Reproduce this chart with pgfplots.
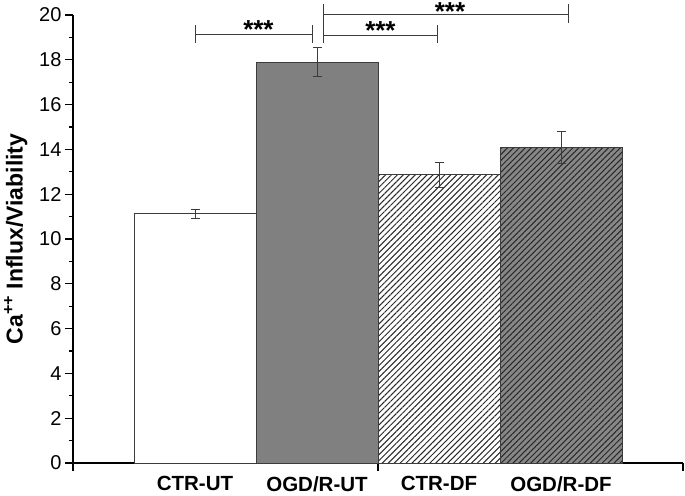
\documentclass[border=0pt]{standalone}
\usepackage{fontspec}
\setmainfont{Liberation Sans}
\usepackage{pgfplots}
\pgfplotsset{compat=1.18}
\usetikzlibrary{patterns.meta}
\definecolor{barline}{RGB}{60,60,60}
\definecolor{midgray}{RGB}{128,128,128}
\definecolor{hatchgray}{RGB}{135,135,135}
\definecolor{hatchline}{RGB}{40,40,40}

\begin{document}
\begin{tikzpicture}
\begin{axis}[
  name=ax,
  scale only axis,
  width=610pt, height=448pt,
  xmin=0, xmax=5,
  ymin=0, ymax=20,
  axis lines*=left,
  axis line style={line width=1.3pt, black},
  tick align=outside,
  ytick={0,2,...,20},
  minor y tick num=1,
  major tick length=8pt,
  minor tick length=4pt,
  tick style={line width=1.1pt, black},
  xtick={0,2.5,5},
  xticklabels={},
  extra x ticks={1,2,3,4},
  extra x tick labels={CTR-UT,OGD/R-UT,CTR-DF,OGD/R-DF},
  extra x tick style={major tick length=0pt,
    tick label style={font=\fontsize{20.5}{24}\selectfont\bfseries, yshift=-10pt}},
  yticklabel style={font=\fontsize{20}{24}\selectfont},
  /pgf/number format/assume math mode=true,
  ylabel={Ca\textsuperscript{++} Influx/Viability},
  ylabel style={font=\fontsize{23}{27}\selectfont\bfseries, yshift=5pt},
  clip=false,
  error bars/y dir=both,
  error bars/y explicit,
  error bars/error mark options={rotate=90, mark size=4.5pt, line width=1pt, barline},
  error bars/error bar style={line width=1pt, barline},
]
  \addplot[ybar, bar width=1, bar shift=0pt, fill=white, draw=barline, line width=0.9pt]
    coordinates {(1,11.12) +- (0,0.2)};
  \addplot[ybar, bar width=1, bar shift=0pt, fill=midgray, draw=barline, line width=0.9pt]
    coordinates {(2,17.9) +- (0,0.63)};
  \addplot[ybar, bar width=1, bar shift=0pt, fill=white, draw=barline, line width=0.9pt,
    postaction={pattern={Lines[angle=45, distance=4.2pt, line width=1pt]}, pattern color=hatchline}]
    coordinates {(3,12.86) +- (0,0.56)};
  \addplot[ybar, bar width=1, bar shift=0pt, fill=hatchgray, draw=barline, line width=0.9pt,
    postaction={pattern={Lines[angle=45, distance=4.2pt, line width=1pt]}, pattern color=hatchline}]
    coordinates {(4,14.08) +- (0,0.73)};

  % significance brackets
  \draw[barline, line width=1pt] (axis cs:1.0,18.75) -- (axis cs:1.0,19.55);
  \draw[barline, line width=1pt] (axis cs:1.0,19.15) -- (axis cs:1.967,19.15);
  \draw[barline, line width=1pt] (axis cs:1.967,18.75) -- (axis cs:1.967,19.55);
  \node[anchor=north, inner sep=0pt, font=\fontsize{26}{28}\selectfont\bfseries] at (axis cs:1.52,19.78) {***};

  \draw[barline, line width=1pt] (axis cs:2.057,18.75) -- (axis cs:2.057,20.5);
  \draw[barline, line width=1pt] (axis cs:2.057,19.1) -- (axis cs:2.99,19.1);
  \draw[barline, line width=1pt] (axis cs:2.99,18.75) -- (axis cs:2.99,19.55);
  \node[anchor=north, inner sep=0pt, font=\fontsize{26}{28}\selectfont\bfseries] at (axis cs:2.52,19.7) {***};

  \draw[barline, line width=1pt] (axis cs:2.057,20.04) -- (axis cs:4.06,20.04);
  \draw[barline, line width=1pt] (axis cs:4.06,19.65) -- (axis cs:4.06,20.5);
  \node[anchor=north, inner sep=0pt, font=\fontsize{26}{28}\selectfont\bfseries] at (axis cs:3.09,20.55) {***};
\end{axis}
\pgfresetboundingbox
\path[use as bounding box] ([shift={(-73pt,-32pt)}]ax.south west) rectangle ([shift={(2pt,15pt)}]ax.north east);
\end{tikzpicture}
\end{document}
